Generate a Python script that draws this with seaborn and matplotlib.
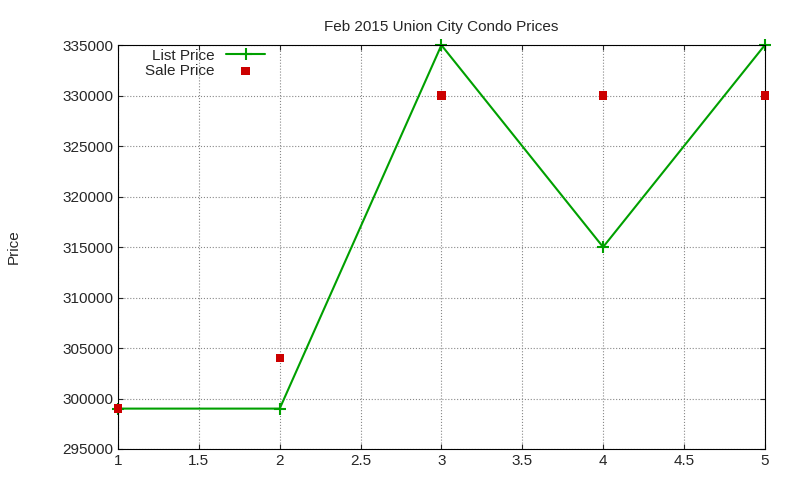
import matplotlib
matplotlib.use("Agg")
import matplotlib.pyplot as plt
import seaborn as sns
import pandas as pd

x = [1, 2, 3, 4, 5]
list_price = [299000, 299000, 335000, 315000, 335000]
sale_price = [299000, 304000, 330000, 330000, 330000]

sns.set_style("ticks")
plt.rcParams['font.family'] = ['Liberation Sans', 'DejaVu Sans']
fig = plt.figure(figsize=(8, 4.8), dpi=100)
ax = fig.add_axes([0.1475, 0.0646, 0.8085, 0.8414])
df = pd.DataFrame({"x": x, "list": list_price, "sale": sale_price})
sns.lineplot(data=df, x="x", y="list", ax=ax, color="#00a000", marker="+", markersize=8,
             markeredgewidth=1.5, markeredgecolor="#00a000", linewidth=1.5,
             label="List Price", clip_on=False)
sns.scatterplot(data=df, x="x", y="sale", ax=ax, color="#cc0000", marker="s", s=36,
                edgecolor="none", label="Sale Price", zorder=5, clip_on=False)
ax.set_xlim(1, 5)
ax.set_ylim(295000, 335000)
ax.set_xticks([1, 1.5, 2, 2.5, 3, 3.5, 4, 4.5, 5])
ax.set_xticklabels(["1", "1.5", "2", "2.5", "3", "3.5", "4", "4.5", "5"])
ax.set_yticks(range(295000, 335001, 5000))
ax.grid(True, linestyle=":", color="#888888", linewidth=0.8)
ax.tick_params(direction="in", labelsize=11, top=True, right=True)
for s in ax.spines.values():
    s.set_color("black")
ax.set_xlabel("")
ax.set_ylabel("Price", fontsize=11, labelpad=30)
ax.set_title("Feb 2015 Union City Condo Prices", fontsize=11, pad=10)
ax.legend(loc="upper left", bbox_to_anchor=(0.02, 1.025), frameon=False, markerfirst=False,
          fontsize=11, handlelength=2.5, labelspacing=0.1)
fig.savefig("out.png", dpi=100)
